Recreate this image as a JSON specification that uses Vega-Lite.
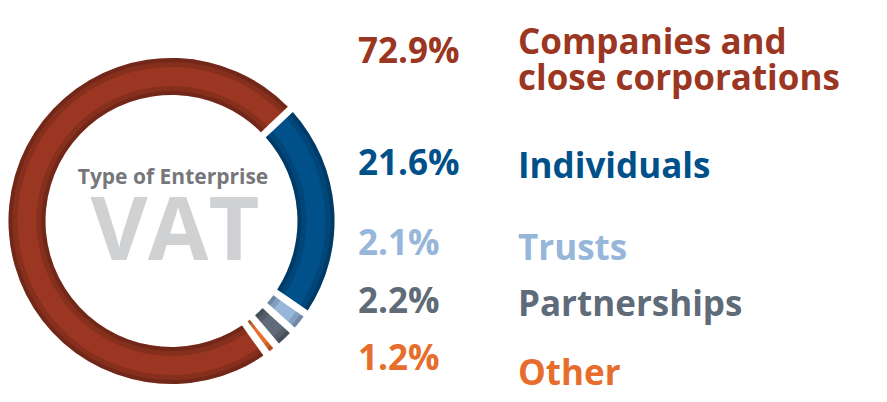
{
  "$schema": "https://vega.github.io/schema/vega-lite/v6.json",
  "padding": {"left": 0, "top": 26, "right": 0, "bottom": 0},
  "bounds": "flush",
  "spacing": 0,
  "background": "white",
  "config": {"view": {"stroke": null}, "font": "Open Sans"},
  "datasets": {
    "vat": [
      {"category": "Companies and close corporations", "label": ["Companies and", "close corporations"], "share": 0.729},
      {"category": "Individuals", "label": "Individuals", "share": 0.216},
      {"category": "Trusts", "label": "Trusts", "share": 0.021},
      {"category": "Partnerships", "label": "Partnerships", "share": 0.022},
      {"category": "Other", "label": "Other", "share": 0.012}
    ]
  },
  "hconcat": [
    {
      "width": 343,
      "height": 368,
      "data": {"name": "vat"},
      "transform": [{"window": [{"op": "row_number", "as": "rank"}]}],
      "layer": [
        {
          "mark": {"type": "arc", "outerRadius": 163, "innerRadius": 126, "padAngle": 0.035},
          "encoding": {
            "theta": {"field": "share", "type": "quantitative", "stack": true, "scale": {"range": [2.52, 8.803]}},
            "color": {
              "field": "category", "type": "nominal", "legend": null,
              "scale": {
                "domain": ["Companies and close corporations", "Individuals", "Trusts", "Partnerships", "Other"],
                "range": ["#9a3621", "#00508a", "#96b6da", "#5f6b78", "#e66d2c"]
              }
            },
            "order": {"field": "rank", "type": "quantitative"}
          }
        },
        {
          "mark": {"type": "arc", "outerRadius": 163, "innerRadius": 154, "padAngle": 0.035, "color": "black", "opacity": 0.12},
          "encoding": {
            "theta": {"field": "share", "type": "quantitative", "stack": true},
            "detail": {"field": "category", "type": "nominal"},
            "order": {"field": "rank", "type": "quantitative"}
          }
        },
        {
          "mark": {"type": "arc", "outerRadius": 163, "innerRadius": 159, "padAngle": 0.035, "color": "black", "opacity": 0.15},
          "encoding": {
            "theta": {"field": "share", "type": "quantitative", "stack": true},
            "detail": {"field": "category", "type": "nominal"},
            "order": {"field": "rank", "type": "quantitative"}
          }
        },
        {
          "mark": {"type": "arc", "outerRadius": 135, "innerRadius": 126, "padAngle": 0.035, "color": "black", "opacity": 0.12},
          "encoding": {
            "theta": {"field": "share", "type": "quantitative", "stack": true},
            "detail": {"field": "category", "type": "nominal"},
            "order": {"field": "rank", "type": "quantitative"}
          }
        },
        {
          "mark": {"type": "arc", "outerRadius": 130, "innerRadius": 126, "padAngle": 0.035, "color": "black", "opacity": 0.15},
          "encoding": {
            "theta": {"field": "share", "type": "quantitative", "stack": true},
            "detail": {"field": "category", "type": "nominal"},
            "order": {"field": "rank", "type": "quantitative"}
          }
        },
        {
          "data": {"values": [{"t": "Type of Enterprise"}]},
          "mark": {"type": "text", "align": "center", "baseline": "alphabetic", "dx": 1.5, "dy": -37, "fontSize": 21, "fontWeight": "bold", "color": "#76777a"},
          "encoding": {"text": {"field": "t", "type": "nominal"}}
        },
        {
          "data": {"values": [{"t": "VAT"}]},
          "mark": {"type": "text", "align": "center", "baseline": "alphabetic", "dx": 3.5, "dy": 38.5, "fontSize": 88, "fontWeight": "bold", "color": "#d0d1d3"},
          "encoding": {"text": {"field": "t", "type": "nominal"}}
        }
      ]
    },
    {
      "width": 350,
      "height": 368,
      "data": {"name": "vat"},
      "layer": [
        {
          "mark": {"type": "text", "align": "left", "baseline": "alphabetic", "dx": -160, "fontSize": 35, "fontWeight": "bold"},
          "encoding": {
            "y": {"field": "share", "type": "quantitative", "axis": null,
                  "scale": {"domain": [0.012, 0.021, 0.022, 0.216, 0.729], "range": [333, 218, 276, 138, 26], "zero": false, "nice": false}},
            "text": {"field": "share", "type": "quantitative", "format": ".1%"},
            "color": {
              "field": "category", "type": "nominal", "legend": null,
              "scale": {
                "domain": ["Companies and close corporations", "Individuals", "Trusts", "Partnerships", "Other"],
                "range": ["#983520", "#00508a", "#96b6da", "#66727e", "#e66d2c"]
              }
            }
          }
        },
        {
          "mark": {"type": "text", "align": "left", "baseline": "alphabetic", "fontSize": 35, "fontWeight": "bold", "lineHeight": 36},
          "encoding": {
            "y": {"field": "share", "type": "quantitative", "axis": null,
                  "scale": {"domain": [0.012, 0.021, 0.022, 0.216, 0.729], "range": [348, 223, 279, 141, 17], "zero": false, "nice": false}},
            "text": {"field": "label", "type": "nominal"},
            "color": {
              "field": "category", "type": "nominal", "legend": null,
              "scale": {
                "domain": ["Companies and close corporations", "Individuals", "Trusts", "Partnerships", "Other"],
                "range": ["#983520", "#00508a", "#96b6da", "#66727e", "#e66d2c"]
              }
            }
          }
        }
      ],
      "resolve": {"scale": {"y": "independent"}}
    }
  ]
}
